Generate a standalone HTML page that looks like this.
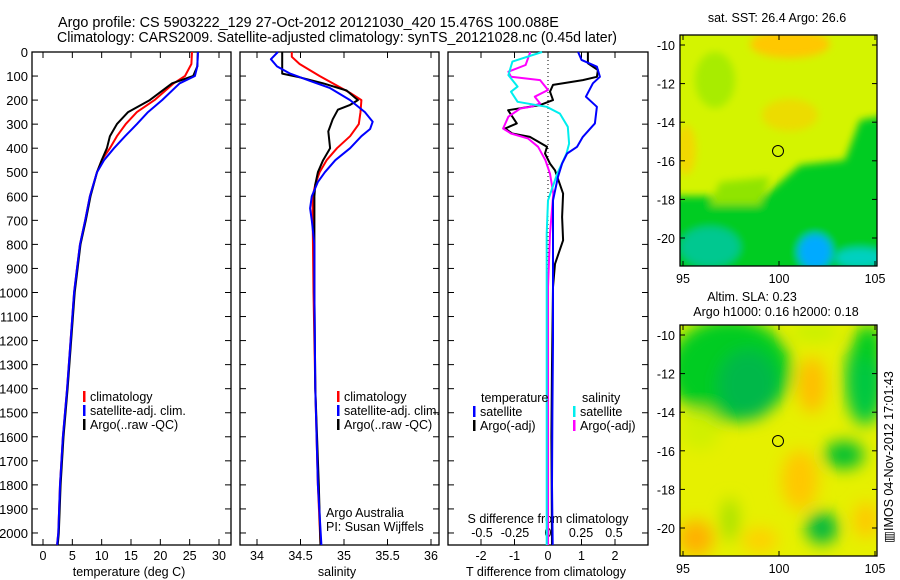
<!DOCTYPE html>
<html><head><meta charset="utf-8"><style>
body{margin:0;background:#fff;}
svg{display:block;font-family:"Liberation Sans",sans-serif;}
text{fill:#000;}
</style></head><body>
<svg id="fig" width="900" height="580" viewBox="0 0 900 580" xmlns="http://www.w3.org/2000/svg">
<defs>
<filter id="blur1" x="-20%" y="-20%" width="140%" height="140%"><feGaussianBlur stdDeviation="4"/></filter>
<filter id="blur2" x="-20%" y="-20%" width="140%" height="140%"><feGaussianBlur stdDeviation="8"/></filter>
<clipPath id="clipm1"><rect x="680" y="35" width="197" height="231"/></clipPath>
<clipPath id="clipm2"><rect x="680" y="325" width="197" height="231"/></clipPath>
</defs>
<text x="58" y="27" font-size="14.4">Argo profile: CS 5903222_129 27-Oct-2012 20121030_420 15.476S 100.088E</text>
<text x="57" y="42" font-size="14.4" textLength="560" lengthAdjust="spacingAndGlyphs">Climatology: CARS2009. Satellite-adjusted climatology: synTS_20121028.nc (0.45d later)</text>

<!-- map 1 -->
<g>
<text x="777" y="22" font-size="12.5" text-anchor="middle">sat. SST: 26.4 Argo: 26.6</text>
<g clip-path="url(#clipm1)">
<rect x="670" y="25" width="220" height="250" fill="#d4f400"/>
<g filter="url(#blur1)">
<ellipse cx="790" cy="44" rx="40" ry="14" fill="#ffc800"/>
<ellipse cx="686" cy="150" rx="10" ry="25" fill="#f2d800"/>
<ellipse cx="715" cy="80" rx="20" ry="28" fill="#a8ec00"/>
<ellipse cx="790" cy="115" rx="28" ry="16" fill="#ecdc00"/>
<rect x="670" y="196" width="220" height="80" fill="#00cc22"/>
<polygon points="760,200 800,165 845,160 860,120 890,115 890,220 760,220" fill="#00cc22"/>
<polygon points="720,182 770,177 760,205 710,205" fill="#90e400"/>
<ellipse cx="710" cy="247" rx="30" ry="20" fill="#00c890"/>
<ellipse cx="815" cy="252" rx="17" ry="18" fill="#00aaff"/>
<ellipse cx="860" cy="258" rx="25" ry="10" fill="#00d0c0"/>
</g>
</g>
<rect x="680" y="35" width="197" height="231" fill="none" stroke="#000" stroke-width="1.3"/>
<circle cx="778" cy="151" r="5.5" fill="none" stroke="#000"/>
<g id="m1ticks"></g>
</g>

<!-- map 2 -->
<g>
<text x="752" y="301" font-size="12.5" text-anchor="middle">Altim. SLA: 0.23</text>
<text x="776" y="316" font-size="12.5" text-anchor="middle">Argo h1000: 0.16 h2000: 0.18</text>
<g clip-path="url(#clipm2)">
<rect x="670" y="315" width="220" height="250" fill="#e6f000"/>
<g filter="url(#blur2)">
<ellipse cx="730" cy="370" rx="62" ry="52" fill="#00cc22"/>
<ellipse cx="748" cy="385" rx="30" ry="35" fill="#00b848"/>
<ellipse cx="815" cy="332" rx="25" ry="10" fill="#c8f000"/>
<ellipse cx="865" cy="380" rx="20" ry="45" fill="#00c840"/>
<ellipse cx="868" cy="345" rx="15" ry="20" fill="#00cc22"/>
<ellipse cx="812" cy="385" rx="14" ry="28" fill="#ffbe00"/>
<ellipse cx="800" cy="480" rx="18" ry="30" fill="#ffc800"/>
<ellipse cx="844" cy="455" rx="20" ry="14" fill="#00c030"/>
<ellipse cx="822" cy="528" rx="16" ry="16" fill="#00b840"/>
<ellipse cx="696" cy="538" rx="18" ry="18" fill="#ffb000"/>
<ellipse cx="730" cy="520" rx="8" ry="22" fill="#a0e000"/>
<ellipse cx="760" cy="540" rx="18" ry="12" fill="#ffd000"/>
<ellipse cx="866" cy="520" rx="12" ry="18" fill="#ffc800"/>
<ellipse cx="700" cy="430" rx="20" ry="20" fill="#d0f000"/>
</g>
</g>
<rect x="680" y="325" width="197" height="231" fill="none" stroke="#000" stroke-width="1.3"/>
<circle cx="778" cy="441" r="5.5" fill="none" stroke="#000"/>
<g id="m2ticks"></g>
</g>
<text transform="translate(893,457) rotate(-90)" font-size="12.5" text-anchor="middle">▥IMOS 04-Nov-2012 17:01:43</text>

<g id="p1"></g>
<g id="p2"></g>
<g id="p3"></g>
</svg>
<script>
// ---- data ----
var tempClimDepth=[0,50,100,130,200,250,300,350,400,450,500,600,700,800,900,1000,1400,1600,1800,2000,2050];
var tempClim=[25.4,25.3,24.2,22.3,19.0,16.0,14.1,12.6,11.4,10.0,9.2,8.0,7.2,6.3,5.8,5.3,4.1,3.4,2.9,2.6,2.4];
var tempSatDepth=[0,60,100,130,200,250,300,350,400,450,500,600,700,800,900,1000,1400,1600,1800,2000,2050];
var tempSat=[26.4,26.3,25.9,23.3,20.3,17.9,16.0,14.0,12.1,10.4,9.2,8.0,7.2,6.3,5.8,5.3,4.1,3.4,2.9,2.6,2.4];
var tempArgoDepth=[0,60,100,130,200,250,300,350,400,450,500,600,700,800,900,1000,1400,1600,1800,2000,2050];
var tempArgo=[26.4,26.3,25.6,22.0,18.2,14.5,12.6,11.4,10.9,10.0,9.2,8.1,7.3,6.4,5.9,5.4,4.2,3.5,3.0,2.7,2.5];

var salClimDepth=[0,20,50,100,130,170,200,250,300,350,400,450,500,550,600,700,1000,1400,1800,2050];
var salClim=[34.40,34.40,34.49,34.72,34.87,35.07,35.20,35.19,35.17,35.07,34.92,34.80,34.72,34.67,34.64,34.64,34.65,34.67,34.70,34.73];
var salSatDepth=[0,30,60,90,120,150,200,250,290,320,350,400,450,500,540,600,650,700,800,1000,1400,1800,2050];
var salSat=[34.24,34.16,34.23,34.38,34.61,34.84,35.07,35.24,35.33,35.30,35.20,35.07,34.90,34.78,34.70,34.63,34.61,34.63,34.66,34.66,34.67,34.70,34.74];
var salArgoDepth=[0,90,105,130,160,200,220,240,280,330,400,450,500,550,600,1000,1400,1800,2050];
var salArgo=[34.29,34.29,34.49,34.76,35.03,35.16,35.07,34.93,34.87,34.82,34.84,34.76,34.70,34.67,34.66,34.66,34.67,34.71,34.73];

var tdSatDepth=[0,33,61,103,130,186,228,297,353,394,422,464,519,617,756,950,1200,1500,1800,2050];
var tdSat=[0.9,1.0,1.46,1.55,1.34,1.13,1.46,1.4,1.04,0.87,0.57,0.42,0.3,0.15,0.15,0.15,0.15,0.13,0.12,0.14];
var tdArgoDepth=[0,47,75,103,117,137,165,200,221,242,297,318,339,353,394,422,464,492,589,686,783,881,978,1300,1600,2050];
var tdArgo=[1.19,1.19,1.49,1.46,1.04,0.15,0.06,0.15,-0.24,-1.19,-0.93,-1.28,-1.07,-0.54,-0.03,-0.09,0.06,0.21,0.45,0.42,0.45,0.21,0.15,0.12,0.1,0.12];
var sdArgoDepth=[0,54,82,103,117,158,186,214,228,235,269,318,339,360,394,450,506,589,756,978,1500,2050];
var sdArgo=[-0.134,-0.17,-0.30,-0.28,-0.06,0,-0.10,-0.06,-0.13,-0.21,-0.30,-0.34,-0.28,-0.15,-0.075,-0.02,0.015,0.04,0.015,0,0,0];
var sdSatDepth=[0,40,96,144,165,207,228,256,311,381,422,506,617,756,964,1500,2050];
var sdSat=[-0.045,-0.27,-0.30,-0.23,-0.28,-0.23,-0.01,0.09,0.15,0.16,0.14,0.07,0,-0.01,-0.01,-0.01,-0.01];

var depthTicks=[0,100,200,300,400,500,600,700,800,900,1000,1100,1200,1300,1400,1500,1600,1700,1800,1900,2000];
var tempTicks=[0,5,10,15,20,25,30];
var salTicks=[34,34.5,35,35.5,36];
var tdTicks=[-2,-1,0,1,2];
var sdTickLabels=["-0.5","-0.25","0","0.25","0.5"];
var sdTicks=[-0.5,-0.25,0,0.25,0.5];
var mapLatTicks=[-10,-12,-14,-16,-18,-20];
var mapLonTicks=[95,100,105];

// ---- scales ----
var NS="http://www.w3.org/2000/svg";
var TOP=52,BOT=545;
function yD(d){return TOP+(d/2050)*(BOT-TOP);}
function lin(d0,d1,r0,r1){return function(v){return r0+(v-d0)/(d1-d0)*(r1-r0);};}
var xT=lin(0,30,43,219);
var xS=lin(34,36,257,431);
var xTD=lin(0,1,548,581.5);
var xSD=lin(0,0.5,548,614);
var lonX=lin(95,105,683,875);
var latY1=lin(-10,-20,45,238);
var latY2=lin(-10,-20,335,528);
var FS=12.5;

function mk(tag,attrs,parent){var e=document.createElementNS(NS,tag);for(var k in attrs)e.setAttribute(k,attrs[k]);parent.appendChild(e);return e;}
function txt(s,x,y,anchor,size,parent){var e=mk('text',{x:x,y:y,'text-anchor':anchor,'font-size':size},parent);e.textContent=s;return e;}

function frame(g,x0,x1,name){
  var r=mk('rect',{x:x0,y:TOP,width:x1-x0,height:BOT-TOP,fill:'none',stroke:'#000','stroke-width':1.3},g);
  
  
  depthTicks.forEach(function(d){
    mk('line',{x1:x0,x2:x0+6,y1:yD(d),y2:yD(d),stroke:'#000'},g);
    mk('line',{x1:x1,x2:x1-6,y1:yD(d),y2:yD(d),stroke:'#000'},g);
  });
}
function xticks(g,ticks,sc,labels,ly){
  ticks.forEach(function(t,i){
    var x=sc(t);
    mk('line',{x1:x,x2:x,y1:BOT,y2:BOT-6,stroke:'#000'},g);
    mk('line',{x1:x,x2:x,y1:TOP,y2:TOP+6,stroke:'#000'},g);
    var l=txt(labels?labels[i]:String(t),x,ly,'middle',FS,g);
    
    
  });
}
function line(g,depths,vals,sc,color,name,w){
  var pts=depths.map(function(d,i){return sc(vals[i]).toFixed(1)+','+yD(d).toFixed(1);}).join(' ');
  var p=mk('polyline',{points:pts,fill:'none',stroke:color,'stroke-width':w||2,'stroke-linejoin':'round'},g);
  
  
}
function legend(g,x,y,color,label){
  mk('rect',{x:x,y:y-10,width:2.5,height:11,fill:color},g);
  var t=txt(label,x+7,y,'start',FS,g);
  
  
}

// panel 1
var g1=document.getElementById('p1');
frame(g1,32,231,'temperature-panel');
depthTicks.forEach(function(d){
  var t=txt(String(d),28,yD(d)+5,'end',13,g1);
  
  
});
xticks(g1,tempTicks,xT,null,560);
var tt=txt('temperature (deg C)',129,576,'middle',FS,g1);


line(g1,tempClimDepth,tempClim,xT,'#ff0000','temp-climatology-line');
line(g1,tempArgoDepth,tempArgo,xT,'#000000','temp-argo-line');
line(g1,tempSatDepth,tempSat,xT,'#0000ff','temp-satellite-line');
legend(g1,83,401,'#ff0000','climatology');
legend(g1,83,415,'#0000ff','satellite-adj. clim.');
legend(g1,83,429,'#000000','Argo(..raw -QC)');

// panel 2
var g2=document.getElementById('p2');
frame(g2,240,439,'salinity-panel');
xticks(g2,salTicks,xS,null,560);
var st=txt('salinity',337,576,'middle',FS,g2);


line(g2,salClimDepth,salClim,xS,'#ff0000','sal-climatology-line');
line(g2,salArgoDepth,salArgo,xS,'#000000','sal-argo-line');
line(g2,salSatDepth,salSat,xS,'#0000ff','sal-satellite-line');
legend(g2,337,401,'#ff0000','climatology');
legend(g2,337,415,'#0000ff','satellite-adj. clim.');
legend(g2,337,429,'#000000','Argo(..raw -QC)');
var a1=txt('Argo Australia',326,517,'start',FS,g2);


var a2=txt('PI: Susan Wijffels',326,531,'start',FS,g2);



// panel 3
var g3=document.getElementById('p3');
frame(g3,448,648,'difference-panel');
mk('line',{x1:548,x2:548,y1:TOP,y2:BOT,stroke:'#000','stroke-dasharray':'1,3'},g3);
xticks(g3,tdTicks,xTD,null,560);
sdTicks.forEach(function(t,i){
  var l=txt(sdTickLabels[i],xSD(t),537,'middle',FS,g3);
  
  
});
var s1=txt('S difference from climatology',548,523,'middle',FS,g3);


var s2=txt('T difference from climatology',546,576,'middle',FS,g3);


line(g3,tdArgoDepth,tdArgo,xTD,'#000000','tdiff-argo-line');
line(g3,sdArgoDepth,sdArgo,xSD,'#ff00ff','sdiff-argo-line');
line(g3,sdSatDepth,sdSat,xSD,'#00eeee','sdiff-satellite-line');
line(g3,tdSatDepth,tdSat,xTD,'#0000ff','tdiff-satellite-line');
var lt=txt('temperature',481,402,'start',FS,g3);


var ls=txt('salinity',582,402,'start',FS,g3);


legend(g3,473,416,'#0000ff','satellite');
legend(g3,473,430,'#000000','Argo(-adj)');
legend(g3,573,416,'#00eeee','satellite');
legend(g3,573,430,'#ff00ff','Argo(-adj)');

// map ticks
function mapTicks(id,latY,y0,y1){
  var g=document.getElementById(id);
  mapLatTicks.forEach(function(v){
    var y=latY(v);
    mk('line',{x1:680,x2:685,y1:y,y2:y,stroke:'#000'},g);
    mk('line',{x1:877,x2:872,y1:y,y2:y,stroke:'#000'},g);
    var t=txt(String(v),675,y+5,'end',FS,g);
    
    
  });
  mapLonTicks.forEach(function(v){
    var x=lonX(v);
    mk('line',{x1:x,x2:x,y1:y1,y2:y1-5,stroke:'#000'},g);
    mk('line',{x1:x,x2:x,y1:y0,y2:y0+5,stroke:'#000'},g);
    var t=txt(String(v),x,y1+17,'middle',FS,g);
    
    
  });
}
mapTicks('m1ticks',latY1,35,266);
mapTicks('m2ticks',latY2,325,556);
</script>
</body></html>
